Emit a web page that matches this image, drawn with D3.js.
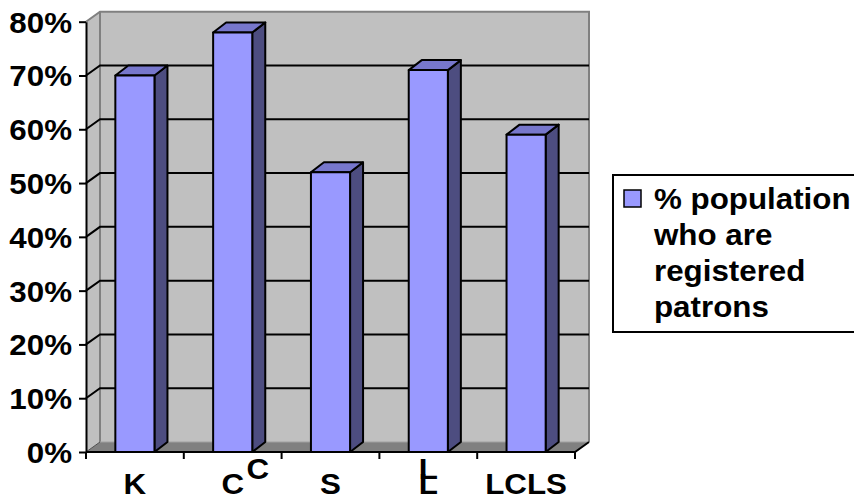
<!DOCTYPE html>
<html>
<head>
<meta charset="utf-8">
<script src="https://cdn.jsdelivr.net/npm/d3@7"></script>
<style>
  html, body { margin: 0; padding: 0; background: #ffffff; }
  svg { display: block; }
  text { font-family: "Liberation Sans", Arial, sans-serif; font-weight: bold; fill: #000; }
</style>
</head>
<body>
<svg id="chart" width="854" height="499"></svg>
<script>
// Library patrons as a share of each area's population
const categories = ["K", "CC", "S", "LL", "LCLS"];
const labelLines = [["K"], ["C", "C"], ["S"], ["L", "L"], ["LCLS"]];
const patronShare = [0.70, 0.78, 0.52, 0.71, 0.59];
const yTicks = [0, 0.1, 0.2, 0.3, 0.4, 0.5, 0.6, 0.7, 0.8];
const seriesName = ["% population", "who are", "registered", "patrons"];

const svg = d3.select("#chart");
const FONT = 29, STRETCH = 1.08;
const FAMILY = "'Liberation Sans', Arial, sans-serif";

// front plane of the 3-D box
const x = d3.scaleBand().domain(categories).range([86, 575]).paddingInner(0.6).paddingOuter(0.3);
const y = d3.scaleLinear().domain([0, 0.8]).range([452, 21.7]);
const depth = { dx: 14, dy: -10 };     // wall depth offset
const barDepth = { dx: 13, dy: -10 };  // column depth offset

const x0 = x.range()[0], x1 = x.range()[1];
const yTop = y(0.8), yBase = y(0);
const pts = a => a.map(p => p.join(",")).join(" ");

// back wall
svg.append("rect")
  .attr("x", x0 + depth.dx).attr("y", yTop + depth.dy)
  .attr("width", x1 - x0).attr("height", yBase - yTop)
  .attr("fill", "#c0c0c0");

// left side wall
svg.append("polygon")
  .attr("points", pts([[x0, yBase], [x0, yTop], [x0 + depth.dx, yTop + depth.dy], [x0 + depth.dx, yBase + depth.dy]]))
  .attr("fill", "#c0c0c0");

// floor
svg.append("polygon")
  .attr("points", pts([[x0, yBase], [x1, yBase], [x1 + depth.dx, yBase + depth.dy], [x0 + depth.dx, yBase + depth.dy]]))
  .attr("fill", "#808080");

// wall edges
const edge = svg.append("g").attr("stroke", "#808080").attr("stroke-width", 2).attr("fill", "none");
edge.append("polyline").attr("points", pts([[x0, yTop], [x0 + depth.dx, yTop + depth.dy], [x1 + depth.dx, yTop + depth.dy], [x1 + depth.dx, yBase + depth.dy]]));
edge.append("line").attr("x1", x0 + depth.dx).attr("y1", yTop + depth.dy).attr("x2", x0 + depth.dx).attr("y2", yBase + depth.dy);
edge.append("line").attr("x1", x0 + depth.dx).attr("y1", yBase + depth.dy).attr("x2", x1 + depth.dx).attr("y2", yBase + depth.dy).attr("stroke", "#a0a0a0").attr("stroke-width", 1);
edge.append("line").attr("x1", x0).attr("y1", yBase).attr("x2", x0 + depth.dx).attr("y2", yBase + depth.dy).attr("stroke", "#505050").attr("stroke-width", 1);

// gridlines on back and side walls
const grid = svg.append("g").attr("stroke", "#000").attr("stroke-width", 2).attr("fill", "none");
yTicks.filter(v => v > 0 && v < 0.8).forEach(v => {
  grid.append("polyline")
    .attr("points", pts([[x0, y(v)], [x0 + depth.dx, y(v) + depth.dy], [x1 + depth.dx, y(v) + depth.dy]]));
});

// columns
const bars = svg.append("g").attr("stroke", "#000").attr("stroke-width", 2).attr("stroke-linejoin", "round");
categories.forEach((c, i) => {
  const l = x(c), r = x(c) + x.bandwidth(), t = y(patronShare[i]);
  const g = bars.append("g");
  g.append("polygon").attr("fill", "#4d4d80")
    .attr("points", pts([[r, yBase], [r, t], [r + barDepth.dx, t + barDepth.dy], [r + barDepth.dx, yBase + barDepth.dy]]));
  g.append("polygon").attr("fill", "#7777cc")
    .attr("points", pts([[l, t], [r, t], [r + barDepth.dx, t + barDepth.dy], [l + barDepth.dx, t + barDepth.dy]]));
  g.append("rect").attr("fill", "#9999ff")
    .attr("x", l).attr("y", t).attr("width", r - l).attr("height", yBase - t);
});

// floor front and right edges (category axis)
const axisG = svg.append("g").attr("stroke", "#000").attr("stroke-width", 2).attr("fill", "none");
axisG.append("polyline").attr("points", pts([[x0, yBase], [x1, yBase], [x1 + depth.dx, yBase + depth.dy]]));
// category boundary ticks
d3.range(categories.length + 1).forEach(k => {
  const xt = x0 + k * x.step();
  axisG.append("line").attr("x1", xt).attr("x2", xt).attr("y1", yBase).attr("y2", yBase + 7);
});

// value axis
const yAxis = d3.axisLeft(y).tickValues(yTicks).tickFormat(d3.format(".0%")).tickSize(7).tickSizeOuter(0);
const yg = svg.append("g").attr("transform", `translate(${x0},0)`).call(yAxis);
yg.select(".domain").attr("stroke", "#000").attr("stroke-width", 2);
yg.selectAll(".tick line").attr("stroke", "#000").attr("stroke-width", 2);
yg.selectAll(".tick text")
  .attr("x", null).attr("dy", null)
  .attr("transform", `translate(-14,10.5) scale(${STRETCH},1)`)
  .attr("text-anchor", "end")
  .style("font-size", FONT + "px")
  .style("font-family", FAMILY)
  .style("font-weight", "bold")
  .attr("fill", "#000");

// category labels; a second line is drawn raised above the first
const raisedShift = { CC: 25, LL: 0 };
categories.forEach((c, i) => {
  const cx = x(c) + x.bandwidth() / 2;
  const lines = labelLines[i];
  lines.forEach((s, j) => {
    const isRaised = lines.length > 1 && j === 1;
    const tx = cx + (isRaised ? raisedShift[c] : 0);
    const ty = isRaised ? 479 : 494;
    svg.append("text")
      .attr("transform", `translate(${tx},${ty}) scale(${STRETCH},1)`)
      .attr("text-anchor", "middle")
      .style("font-size", FONT + "px")
      .text(s);
  });
});

// legend
const lg = svg.append("g");
lg.append("rect").attr("x", 613).attr("y", 175).attr("width", 260).attr("height", 157)
  .attr("fill", "#fff").attr("stroke", "#000").attr("stroke-width", 2);
lg.append("rect").attr("x", 624).attr("y", 190).attr("width", 17).attr("height", 17)
  .attr("fill", "#9999ff").attr("stroke", "#000").attr("stroke-width", 1.5);
seriesName.forEach((s, j) => {
  lg.append("text")
    .attr("transform", `translate(654,${209 + j * 36}) scale(${STRETCH},1)`)
    .style("font-size", FONT + "px")
    .text(s);
});
</script>
</body>
</html>
